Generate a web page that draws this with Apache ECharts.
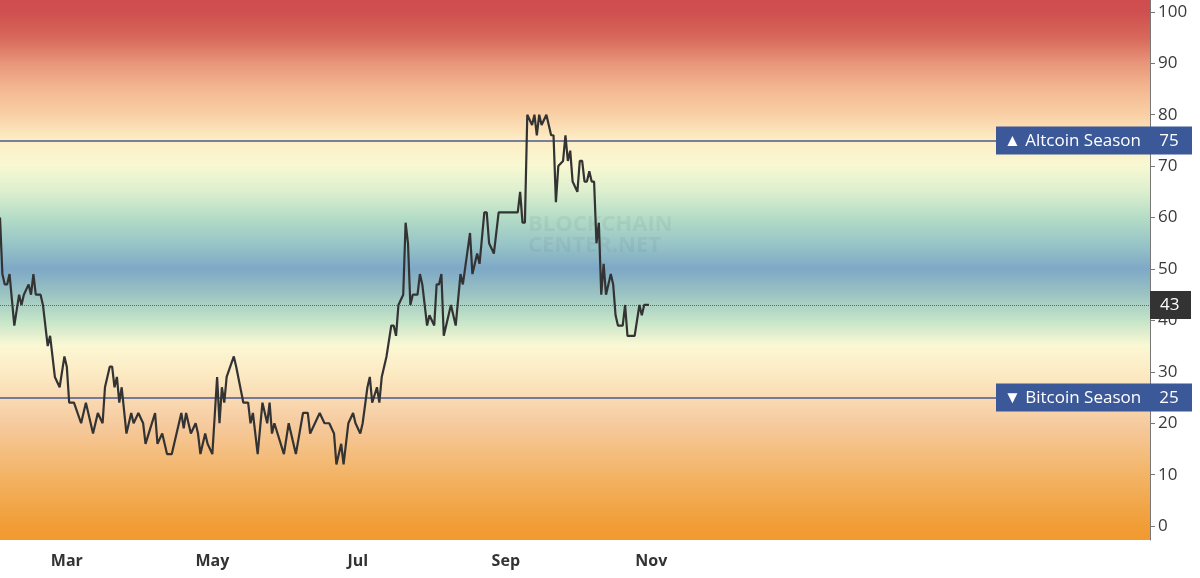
<!DOCTYPE html>
<html><head><meta charset="utf-8">
<script src="https://cdn.jsdelivr.net/npm/echarts@6/dist/echarts.min.js"></script>
<style>html,body{margin:0;padding:0;background:#fff}#c{width:1200px;height:578px}</style>
</head><body><div id="c"></div>
<script>
const startDate = '2021-02-01';
const dayOffsets = [0,1,2,3,4,6,7,8,9,10,12,13,14,15,17,18,20,21,23,25,27,28,29,31,34,36,39,41,43,44,46,47,48,49,50,51,53,55,56,58,60,61,63,65,66,68,70,72,74,76,77,78,80,82,83,84,86,87,89,91,92,93,94,95,98,99,102,104,105,106,108,110,112,113,114,115,119,121,124,127,129,130,132,134,136,138,140,141,143,144,146,148,149,151,152,154,155,156,158,159,160,162,164,165,166,167,169,170,171,172,173,175,176,177,179,180,182,183,184,185,186,189,191,193,194,197,198,200,201,203,204,205,207,209,217,218,219,220,221,223,224,225,226,227,229,231,232,233,234,236,237,238,239,240,242,243,244,245,246,247,248,249,250,251,252,253,254,256,257,258,259,261,262,263,266,268,269,270,272];
const indexValues = [60,49,47,47,49,39,42,45,43,45,47,45,49,45,45,43,35,37,29,27,33,31,24,24,20,24,18,22,20,27,31,31,27,29,24,27,18,22,20,22,20,16,19,22,16,18,14,14,18,22,19,22,18,20,18,14,18,16,14,29,20,27,24,29,33,31,24,24,20,22,14,24,20,24,18,20,14,20,14,22,22,18,20,22,20,20,18,12,16,12,20,22,20,18,20,27,29,24,27,24,29,33,39,39,37,43,45,59,55,43,45,45,49,47,39,41,39,47,47,49,37,43,39,49,47,57,49,53,51,61,61,55,53,61,61,65,59,59,80,78,80,76,80,78,80,76,76,63,70,71,76,71,73,67,65,71,71,67,67,69,67,67,55,59,45,51,45,49,47,41,39,39,43,37,37,43,41,43,43];
const monthTicks = ['2021-03-01','2021-05-01','2021-07-01','2021-09-01','2021-11-01'];
const monthNames = ['Jan','Feb','Mar','Apr','May','Jun','Jul','Aug','Sep','Oct','Nov','Dec'];
const yTicks = [0,10,20,30,40,50,60,70,80,90,100];
const altcoinLevel = 75, bitcoinLevel = 25, currentValue = 43;

const base = new Date(startDate + 'T00:00:00').getTime();
const seriesData = dayOffsets.map((d,i)=>[base + d*86400000, indexValues[i]]);
const tickTs = monthTicks.map(s=>new Date(s+'T00:00:00').getTime());

const chart = echarts.init(document.getElementById('c'));
const boxLabel = (arrow, name, val) => ({
  show:true, position:'end', distance:0, offset:[-154,0],
  formatter: '{a|' + arrow + ' ' + name + '}{b|' + val + '}',
  backgroundColor:'#3b5998', padding:[6,8,5,8],
  rich:{a:{width:150,color:'#fff',fontSize:17,fontFamily:'Open Sans',fontWeight:500},
        b:{width:30,color:'#fff',fontSize:17,fontFamily:'Open Sans',fontWeight:500,align:'center'}}
});
chart.setOption({
  animation:false,
  grid:{left:0,right:50,top:0,bottom:38,show:true,borderWidth:0,
    backgroundColor:new echarts.graphic.LinearGradient(0,0,0,1,[
      {offset:0,color:'#cf4d4f'},{offset:0.022,color:'#cf4f4f'},{offset:0.07,color:'#d8685a'},
      {offset:0.117,color:'#e8967a'},{offset:0.165,color:'#f4b891'},{offset:0.213,color:'#f9d0a6'},
      {offset:0.26,color:'#fdeec5'},{offset:0.307,color:'#f8f8d2'},{offset:0.355,color:'#dcefcf'},
      {offset:0.403,color:'#b4dcc6'},{offset:0.45,color:'#99c6c6'},{offset:0.498,color:'#7ea8c6'},
      {offset:0.546,color:'#9cc4c2'},{offset:0.593,color:'#c4e4c8'},{offset:0.64,color:'#fbf8d4'},
      {offset:0.689,color:'#fcebc4'},{offset:0.736,color:'#f9dbb4'},{offset:0.783,color:'#f6cba0'},
      {offset:0.879,color:'#f3b466'},{offset:0.974,color:'#f19d36'},{offset:1,color:'#f19a30'}])},
  graphic:[{type:'text',left:528,top:214,style:{text:'BLOCKCHAIN\nCENTER.NET',fill:'rgba(90,100,110,0.09)',
    font:'bold 22px "Open Sans"',lineHeight:21}}],
  xAxis:{type:'value',min:base,max:base+482*86400000,
    axisLine:{show:false},axisTick:{show:false},splitLine:{show:false},
    axisLabel:{customValues:tickTs,color:'#333',fontSize:16,fontWeight:'bold',fontFamily:'Open Sans',margin:13,
      formatter:v=>monthNames[new Date(v).getMonth()]}},
  yAxis:{type:'value',position:'right',min:-2.7,max:102.3,
    axisLine:{show:true,lineStyle:{color:'#777'}},
    axisTick:{show:true,customValues:yTicks,length:5,lineStyle:{color:'#777'}},
    splitLine:{show:false},
    axisLabel:{customValues:yTicks,color:'#3a3a3a',fontSize:17,fontFamily:'Open Sans',margin:8}},
  series:[{type:'line',data:seriesData,symbol:'none',lineStyle:{color:'#333',width:2.2},z:5,
    markLine:{silent:true,symbol:'none',
      data:[
        {yAxis:altcoinLevel,lineStyle:{color:'#4a5a8c',width:1.5,type:'solid'},label:boxLabel('▲','Altcoin Season',altcoinLevel)},
        {yAxis:bitcoinLevel,lineStyle:{color:'#4a5a8c',width:1.5,type:'solid'},label:boxLabel('▼','Bitcoin Season',bitcoinLevel)},
        {yAxis:currentValue,lineStyle:{color:'#666',width:1,type:'dotted'},
          label:{show:true,position:'end',distance:0,formatter:String(currentValue),backgroundColor:'#333',
            color:'#fff',fontSize:17,fontFamily:'Open Sans',padding:[6,10,5,10],width:21}}
      ]}}]
});
</script></body></html>
